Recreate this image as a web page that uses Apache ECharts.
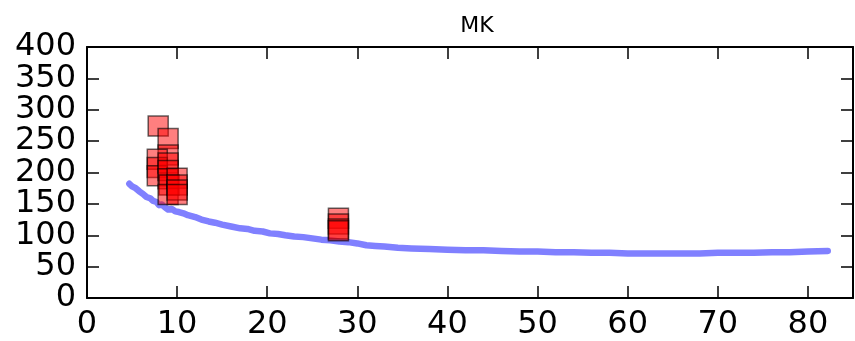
<!DOCTYPE html>
<html>
<head>
<meta charset="utf-8">
<script src="https://cdn.jsdelivr.net/npm/echarts@6/dist/echarts.min.js"></script>
<style>
html,body{margin:0;padding:0;background:#fff;}
#chart{width:855px;height:341px;}
</style>
</head>
<body>
<div id="chart"></div>
<script>
// Data
const chartTitle = "MK";
const xTicks = [0, 10, 20, 30, 40, 50, 60, 70, 80];
const yTicks = [0, 50, 100, 150, 200, 250, 300, 350, 400];

// Blue curve
const curveX = [4.7, 5.0, 5.4, 5.8, 6.2, 6.6, 7.0, 7.3, 7.7, 8.0, 8.3, 8.7, 9.0, 9.4, 9.8, 10.2, 10.7, 11.2, 12.0, 12.7, 13.5, 14.2, 15.0, 16.0, 17.0, 17.8, 18.6, 19.5, 20.3, 21.2, 22.0, 23.0, 24.0, 25.0, 26.0, 27.0, 28.0, 29.0, 30.0, 31.0, 32.0, 33.0, 34.5, 36.0, 38.0, 40.0, 42.0, 44.0, 46.0, 48.0, 50.0, 52.0, 54.0, 56.0, 58.0, 60.0, 62.0, 64.0, 66.0, 68.0, 70.0, 72.0, 74.0, 76.0, 78.0, 80.0, 82.2];
const curveY = [182, 178, 175, 170, 166, 161, 159, 155, 153, 148, 149, 144, 141, 142, 138, 137, 135, 132, 129, 125, 122, 120, 117, 114, 111, 110, 107, 106, 103, 102, 100, 98, 97, 95, 93, 92, 90, 89, 87, 84, 83, 82, 80, 79, 78, 77, 76, 76, 75, 74, 74, 73, 73, 72, 72, 71, 71, 71, 71, 71, 72, 72, 72, 73, 73, 74, 75];

// Red squares
const squareX = [7.9, 9.0, 9.0, 7.8, 7.8, 7.8, 9.0, 9.0, 9.0, 9.1, 9.0, 10.0, 10.0, 10.0, 10.0, 27.9, 27.9, 27.9, 27.9];
const squareY = [274, 254, 228, 221, 208, 195, 215, 203, 190, 180, 165, 191, 180, 172, 165, 127, 118, 110, 107];

const curveData = curveX.map((x, i) => [x, curveY[i]]);
const squareData = squareX.map((x, i) => [x, squareY[i]]);

const FONT = "DejaVu Sans";
const chart = echarts.init(document.getElementById('chart'), null, {renderer: 'canvas'});

function axisLine() { return {show: true, onZero: false, lineStyle: {color: '#000', width: 2}}; }
function axisTick() { return {show: true, inside: true, length: 12, lineStyle: {color: '#000', width: 1.5}}; }
function yLabel(keepOdd) {
  return {
    fontFamily: FONT, fontSize: 32, color: '#000', margin: 11,
    showMinLabel: true, showMaxLabel: true, hideOverlap: false,
    formatter: v => {
      if (yTicks.indexOf(v) < 0) return '';
      const odd = (v / 50) % 2 === 1;
      return odd === keepOdd ? String(v) : '';
    }
  };
}

chart.setOption({
  animation: false,
  backgroundColor: '#fff',
  title: {
    text: chartTitle,
    left: 472, top: 10, textAlign: 'center',
    textStyle: {fontFamily: FONT, fontSize: 22, fontWeight: 'normal', color: '#000'}
  },
  grid: {left: 87, right: 2, top: 47, bottom: 42},
  xAxis: [{
    type: 'value', gridIndex: 0, min: 0, max: 85, interval: 10, position: 'bottom',
    axisLine: axisLine(), axisTick: axisTick(), splitLine: {show: false},
    axisLabel: {
      fontFamily: FONT, fontSize: 32, color: '#000', margin: 11,
      showMinLabel: true, showMaxLabel: false, hideOverlap: false,
      formatter: v => (xTicks.indexOf(v) >= 0 ? String(v) : '')
    }
  }, {
    type: 'value', gridIndex: 0, min: 0, max: 85, interval: 10, position: 'top',
    axisLine: axisLine(), axisTick: axisTick(), splitLine: {show: false},
    axisLabel: {show: false}
  }],
  yAxis: [{
    type: 'value', gridIndex: 0, min: 0, max: 400, interval: 50, position: 'left',
    axisLine: axisLine(), axisTick: axisTick(), splitLine: {show: false},
    axisLabel: yLabel(false)
  }, {
    type: 'value', gridIndex: 0, min: 0, max: 400, interval: 50, position: 'right',
    axisLine: axisLine(), axisTick: axisTick(), splitLine: {show: false},
    axisLabel: {show: false}
  }, {
    type: 'value', gridIndex: 0, min: 0, max: 400, interval: 50, position: 'left', offset: 0,
    axisLine: {show: false}, axisTick: {show: false}, splitLine: {show: false},
    axisLabel: yLabel(true)
  }],
  series: [{
    type: 'line', data: curveData, showSymbol: false, symbol: 'none',
    xAxisIndex: 0, yAxisIndex: 0,
    lineStyle: {color: '#8080ff', width: 6.5, join: 'round', cap: 'round'},
    z: 2
  }, {
    type: 'scatter', data: squareData, symbol: 'rect', symbolSize: 20,
    xAxisIndex: 0, yAxisIndex: 0,
    itemStyle: {color: 'rgba(255,0,0,0.5)', borderColor: 'rgba(0,0,0,0.6)', borderWidth: 1.5, opacity: 1},
    z: 3
  }]
});
</script>
</body>
</html>
